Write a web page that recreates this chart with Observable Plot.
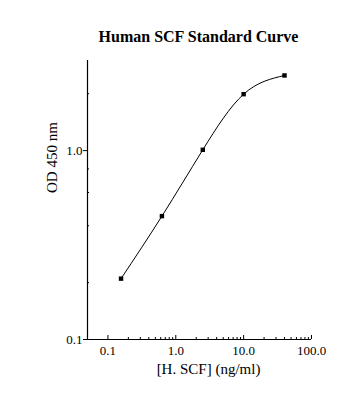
<!DOCTYPE html>
<html>
<head>
<meta charset="utf-8">
<script src="https://cdn.jsdelivr.net/npm/d3@7"></script>
<script src="https://cdn.jsdelivr.net/npm/@observablehq/plot@0.6"></script>
<style>
  html, body { margin: 0; padding: 0; background: #fff; }
  #chart svg { display: block; }
</style>
</head>
<body>
<div id="chart"></div>
<script>
// Data
const concentration = [0.156, 0.625, 2.5, 10, 40];   // ng/ml
const od450 = [0.21, 0.45, 1.01, 1.99, 2.50];

const xMajorTicks = [0.1, 1, 10, 100];
const xMinorTicks = [0.2, 0.3, 0.4, 0.5, 0.6, 0.7, 0.8, 0.9,
                     2, 3, 4, 5, 6, 7, 8, 9,
                     20, 30, 40, 50, 60, 70, 80, 90];
const yMajorTicks = [0.1, 1];
const yMinorTicks = [0.2, 0.4, 0.6, 0.8, 2];

const titleText = "Human SCF Standard Curve";
const xLabelText = "[H. SCF] (ng/ml)";
const yLabelText = "OD 450 nm";

const points = concentration.map((c, i) => ({c, od: od450[i]}));
const font = "'Liberation Serif', 'Times New Roman', serif";

const chart = Plot.plot({
  width: 354,
  height: 396,
  marginLeft: 87,
  marginRight: 43,
  marginTop: 60,
  marginBottom: 57,
  style: {fontFamily: font, fontSize: "13px", background: "#fff", color: "#000"},
  x: {type: "log", domain: [0.05, 100]},
  y: {type: "log", domain: [0.1, 3]},
  marks: [
    // axis lines
    Plot.ruleX([0.05], {y1: 0.1, y2: 3, stroke: "#000", strokeWidth: 1.2}),
    Plot.ruleY([0.1], {x1: 0.05, x2: 100, stroke: "#000", strokeWidth: 1.2}),
    // x axis: major ticks pointing up, labels below
    Plot.axisX({ticks: xMajorTicks, tickSize: -4, text: null, stroke: "#000", strokeOpacity: 1, label: null}),
    Plot.axisX({ticks: xMajorTicks, tickSize: 0, tickPadding: 6, tickFormat: d3.format(".1f"), label: null, fill: "#000", fontSize: 13}),
    Plot.axisX({ticks: xMinorTicks, tickSize: -2, text: null, stroke: "#000", strokeOpacity: 1, label: null}),
    // y axis: major ticks outward, minor ticks inward
    Plot.axisY({ticks: yMajorTicks, tickSize: 4, tickPadding: 1, tickFormat: d3.format(".1f"), label: null, stroke: "#000", strokeOpacity: 1, fill: "#000", fontSize: 13}),
    Plot.axisY({ticks: yMinorTicks, tickSize: -2, text: null, stroke: "#000", strokeOpacity: 1, label: null}),
    // curve and points
    Plot.line(points, {x: "c", y: "od", curve: "natural", stroke: "#000", strokeWidth: 1}),
    Plot.dot(points, {x: "c", y: "od", symbol: "square", r: 2.5, fill: "#000", stroke: "none"}),
    // texts
    Plot.text([titleText], {frameAnchor: "top", dy: -30, dx: -1, text: d => d, fontSize: 16, fontWeight: "bold", fill: "#000"}),
    Plot.text([xLabelText], {frameAnchor: "bottom", dx: 9, dy: 34, text: d => d, fontSize: 15, fill: "#000"}),
    Plot.text([yLabelText], {frameAnchor: "left", dx: -35, dy: -7, rotate: -90, text: d => d, fontSize: 15, fill: "#000"})
  ]
});
document.getElementById("chart").appendChild(chart);
</script>
</body>
</html>
